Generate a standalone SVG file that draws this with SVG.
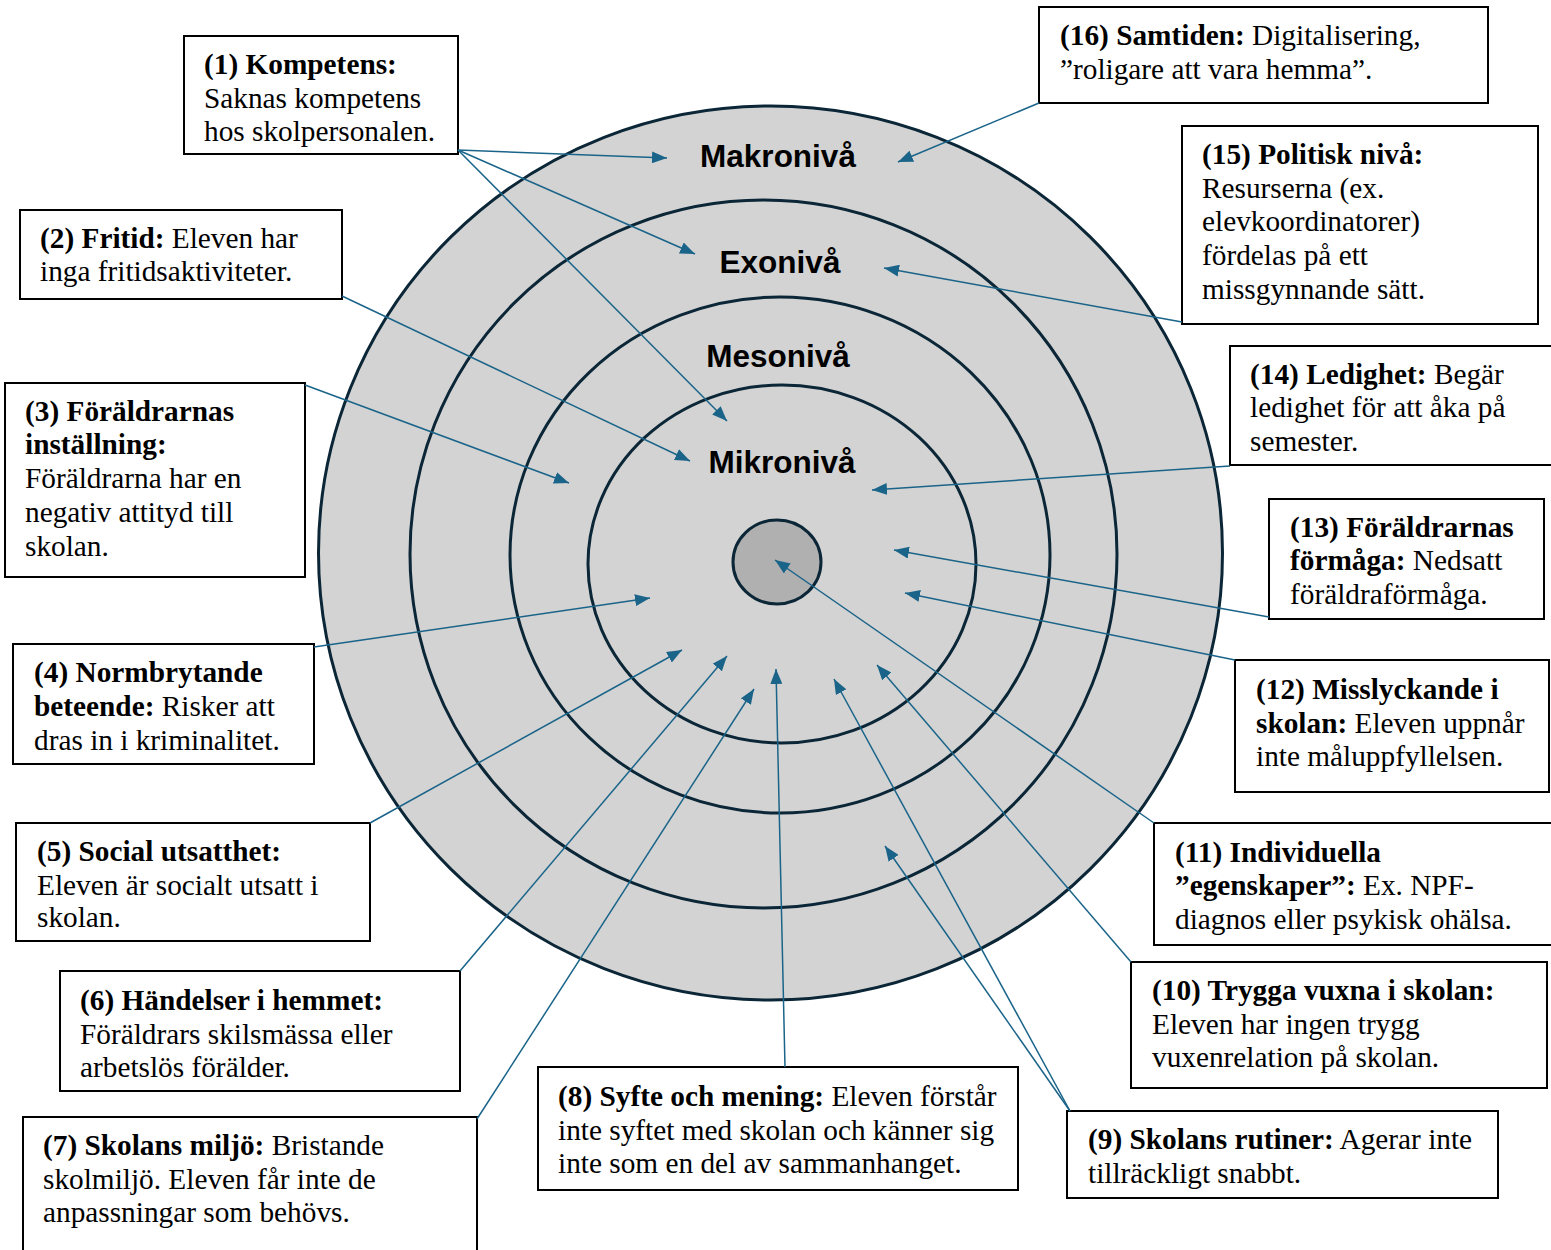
<svg xmlns="http://www.w3.org/2000/svg" width="1551" height="1250" viewBox="0 0 1551 1250">
<style>
.ring{fill:none;stroke:#0b2636;stroke-width:3}
.box{fill:#fff;stroke:#000;stroke-width:2}
.t{font-family:"Liberation Serif","Times New Roman",serif;font-size:29.3px;fill:#000}
.b{font-weight:bold}
.lvl{font-family:"Liberation Sans",Arial,sans-serif;font-size:31.5px;font-weight:bold;fill:#000;text-anchor:middle}
.c{fill:none;stroke:#1a6489;stroke-width:1.5;marker-end:url(#ah)}
</style>
<defs>
<marker id="ah" viewBox="0 0 15 12" refX="15" refY="6" markerWidth="15" markerHeight="12" markerUnits="userSpaceOnUse" orient="auto">
<path d="M0,0 L15,6 L0,12 z" fill="#1a6489"/>
</marker>
</defs>
<rect width="1551" height="1250" fill="#fff"/>
<g id="rings">
<ellipse cx="770.5" cy="553" rx="452" ry="447" class="ring" style="fill:#d3d3d3"/>
<ellipse cx="763.5" cy="554" rx="353.5" ry="354" class="ring"/>
<ellipse cx="780" cy="555" rx="270" ry="258" class="ring"/>
<ellipse cx="782" cy="564" rx="194" ry="179" class="ring"/>
<ellipse cx="777" cy="562" rx="44" ry="42" class="ring" style="fill:#b0b0b0"/>
<text class="lvl" x="778" y="167">Makronivå</text>
<text class="lvl" x="780" y="273">Exonivå</text>
<text class="lvl" x="778" y="367">Mesonivå</text>
<text class="lvl" x="782" y="473">Mikronivå</text>
</g>
<g id="n16"><rect class="box" x="1039" y="7" width="449" height="96"/>
<text class="t" x="1060" y="45"><tspan class="b">(16) Samtiden:</tspan> Digitalisering,</text>
<text class="t" x="1060" y="79">”roligare att vara hemma”.</text></g>
<g id="n1"><rect class="box" x="184" y="36" width="274" height="118"/>
<text class="t" x="204" y="74"><tspan class="b">(1) Kompetens:</tspan></text>
<text class="t" x="204" y="108">Saknas kompetens</text>
<text class="t" x="204" y="141">hos skolpersonalen.</text></g>
<g id="n15"><rect class="box" x="1182" y="126" width="356" height="198"/>
<text class="t" x="1202" y="164"><tspan class="b">(15) Politisk nivå:</tspan></text>
<text class="t" x="1202" y="198">Resurserna (ex.</text>
<text class="t" x="1202" y="231">elevkoordinatorer)</text>
<text class="t" x="1202" y="265">fördelas på ett</text>
<text class="t" x="1202" y="299">missgynnande sätt.</text></g>
<g id="n2"><rect class="box" x="20" y="210" width="322" height="89"/>
<text class="t" x="40" y="248"><tspan class="b">(2) Fritid:</tspan> Eleven har</text>
<text class="t" x="40" y="281">inga fritidsaktiviteter.</text></g>
<g id="n14"><rect class="box" x="1230" y="346" width="324" height="119"/>
<text class="t" x="1250" y="384"><tspan class="b">(14) Ledighet:</tspan> Begär</text>
<text class="t" x="1250" y="417">ledighet för att åka på</text>
<text class="t" x="1250" y="451">semester.</text></g>
<g id="n3"><rect class="box" x="5" y="383" width="300" height="194"/>
<text class="t" x="25" y="421"><tspan class="b">(3) Föräldrarnas</tspan></text>
<text class="t" x="25" y="454"><tspan class="b">inställning:</tspan></text>
<text class="t" x="25" y="488">Föräldrarna har en</text>
<text class="t" x="25" y="522">negativ attityd till</text>
<text class="t" x="25" y="556">skolan.</text></g>
<g id="n13"><rect class="box" x="1269" y="499" width="275" height="120"/>
<text class="t" x="1290" y="537"><tspan class="b">(13) Föräldrarnas</tspan></text>
<text class="t" x="1290" y="570"><tspan class="b">förmåga:</tspan> Nedsatt</text>
<text class="t" x="1290" y="604">föräldraförmåga.</text></g>
<g id="n4"><rect class="box" x="13" y="644" width="301" height="120"/>
<text class="t" x="34" y="682"><tspan class="b">(4) Normbrytande</tspan></text>
<text class="t" x="34" y="716"><tspan class="b">beteende:</tspan> Risker att</text>
<text class="t" x="34" y="750">dras in i kriminalitet.</text></g>
<g id="n12"><rect class="box" x="1235" y="660" width="314" height="132"/>
<text class="t" x="1256" y="699"><tspan class="b">(12) Misslyckande i</tspan></text>
<text class="t" x="1256" y="733"><tspan class="b">skolan:</tspan> Eleven uppnår</text>
<text class="t" x="1256" y="766">inte måluppfyllelsen.</text></g>
<g id="n11"><rect class="box" x="1154" y="823" width="400" height="122"/>
<text class="t" x="1175" y="862"><tspan class="b">(11) Individuella</tspan></text>
<text class="t" x="1175" y="895"><tspan class="b">”egenskaper”:</tspan> Ex. NPF-</text>
<text class="t" x="1175" y="929">diagnos eller psykisk ohälsa.</text></g>
<g id="n5"><rect class="box" x="16" y="823" width="354" height="118"/>
<text class="t" x="37" y="861"><tspan class="b">(5) Social utsatthet:</tspan></text>
<text class="t" x="37" y="895">Eleven är socialt utsatt i</text>
<text class="t" x="37" y="927">skolan.</text></g>
<g id="n10"><rect class="box" x="1131" y="962" width="416" height="126"/>
<text class="t" x="1152" y="1000"><tspan class="b">(10) Trygga vuxna i skolan:</tspan></text>
<text class="t" x="1152" y="1034">Eleven har ingen trygg</text>
<text class="t" x="1152" y="1067">vuxenrelation på skolan.</text></g>
<g id="n6"><rect class="box" x="60" y="971" width="400" height="120"/>
<text class="t" x="80" y="1010"><tspan class="b">(6) Händelser i hemmet:</tspan></text>
<text class="t" x="80" y="1044">Föräldrars skilsmässa eller</text>
<text class="t" x="80" y="1077">arbetslös förälder.</text></g>
<g id="n8"><rect class="box" x="538" y="1067" width="480" height="123"/>
<text class="t" x="558" y="1106"><tspan class="b">(8) Syfte och mening:</tspan> Eleven förstår</text>
<text class="t" x="558" y="1140">inte syftet med skolan och känner sig</text>
<text class="t" x="558" y="1173">inte som en del av sammanhanget.</text></g>
<g id="n9"><rect class="box" x="1067" y="1111" width="431" height="87"/>
<text class="t" x="1088" y="1149"><tspan class="b">(9) Skolans rutiner:</tspan> Agerar inte</text>
<text class="t" x="1088" y="1183">tillräckligt snabbt.</text></g>
<g id="n7"><rect class="box" x="23" y="1117" width="454" height="140"/>
<text class="t" x="43" y="1155"><tspan class="b">(7) Skolans miljö:</tspan> Bristande</text>
<text class="t" x="43" y="1189">skolmiljö. Eleven får inte de</text>
<text class="t" x="43" y="1222">anpassningar som behövs.</text></g>
<g id="connectors">
<line class="c" x1="458" y1="150" x2="667" y2="158"/>
<line class="c" x1="458" y1="150" x2="695" y2="254"/>
<line class="c" x1="458" y1="150" x2="727" y2="421"/>
<line class="c" x1="1039" y1="103" x2="898" y2="162"/>
<line class="c" x1="1182" y1="322" x2="884" y2="268"/>
<line class="c" x1="342" y1="296" x2="690" y2="461"/>
<line class="c" x1="1230" y1="466" x2="872" y2="490"/>
<line class="c" x1="305" y1="385" x2="569" y2="483"/>
<line class="c" x1="1269" y1="617" x2="894" y2="550"/>
<line class="c" x1="314" y1="647" x2="650" y2="598"/>
<line class="c" x1="1235" y1="660" x2="905" y2="593"/>
<line class="c" x1="370" y1="823" x2="682" y2="650"/>
<line class="c" x1="1154" y1="823" x2="775" y2="560"/>
<line class="c" x1="460" y1="971" x2="727" y2="656"/>
<line class="c" x1="477" y1="1119" x2="754" y2="689"/>
<line class="c" x1="785" y1="1067" x2="776" y2="669"/>
<line class="c" x1="1131" y1="962" x2="877" y2="665"/>
<line class="c" x1="1070" y1="1111" x2="834" y2="679"/>
<line class="c" x1="1070" y1="1111" x2="885" y2="846"/>
</g>
</svg>
